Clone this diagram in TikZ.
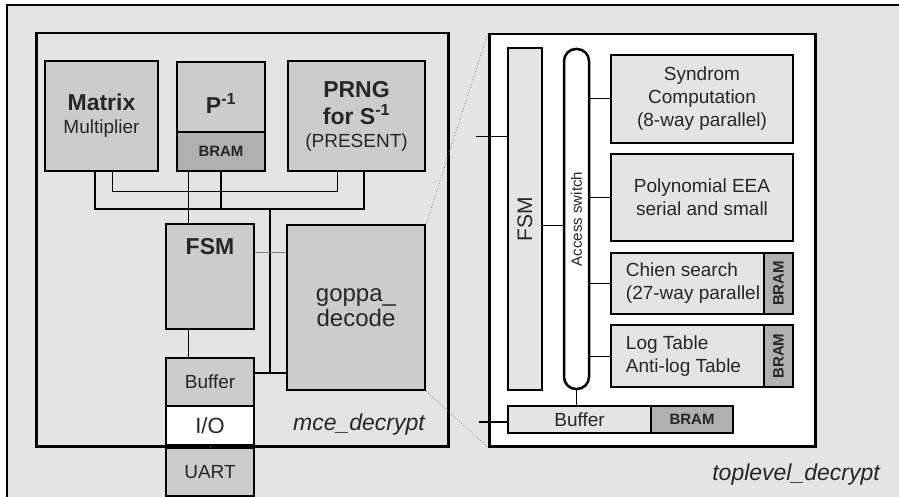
\documentclass[tikz,border=0pt]{standalone}
\usepackage{graphicx}
\usepackage{fontspec}
\setmainfont{Liberation Sans}
\definecolor{bggray}{HTML}{E4E4E4}
\definecolor{boxgray}{HTML}{CCCCCC}
\definecolor{bramgray}{HTML}{B0B0B0}
\definecolor{inkgray}{HTML}{262626}
\newcommand{\headfont}{\bfseries\fontsize{23}{27}\selectfont}

\begin{document}
\begin{tikzpicture}[x=1pt, y=-1pt,
            frame/.style={draw=black, line width=2.5pt, inner sep=0pt, anchor=north west},
            size/.style 2 args={minimum width=#1pt, minimum height=#2pt},
            block/.style={draw=black, line width=2.5pt, fill=boxgray, inner sep=0pt, align=center,
                text=inkgray, font=\fontsize{19}{23}\selectfont},
            lightblock/.style={block, fill=bggray},
            bramblock/.style={block, fill=bramgray, font=\bfseries\fontsize{15}{18}\selectfont},
            bus/.style={line width=2.5pt},
            wire/.style={line width=1pt},
            zoomline/.style={gray, dotted, line width=0.8pt},
            title/.style={font=\itshape\fontsize{23}{27}\selectfont, text=inkgray, inner sep=0pt}
        ]
            \useasboundingbox (0,0) rectangle (899,497);

            % frames
            \draw[frame, fill=bggray] (7,5) rectangle (912,512);
            \node[frame, size={412}{413}] (mce) at (35,32) {};
            \node[frame, size={326}{412}, fill=white] (zoombox) at (488,33) {};

            % mce_decrypt blocks
            \node[block, size={113}{110}] (matrix) at (101.5,116) {{\headfont Matrix}\\Multiplier};
            \node[block, size={88}{70}] (pinv) at (221,97) {\raisebox{-6pt}[\height][\depth]{\headfont P\textsuperscript{-1}}};
            \node[bramblock, size={88}{39}] (pbram) at (221,151.5) {BRAM};
            \node[block, size={137}{110}] (prng) at (356.5,116) {{\headfont PRNG}\\[4pt]{\headfont for S\textsuperscript{-1}}\\(PRESENT)};
            \node[block, size={88}{105},
                label={[anchor=north, yshift=-15pt, inner sep=0pt, text=inkgray, font=\headfont]north:FSM}] (fsm) at (210,276.5) {};
            \node[block, size={138}{165}, font=\fontsize{24}{25}\selectfont] (goppa) at (356,307.5) {goppa\_\\decode};
            \node[block, size={88}{48}] (buf) at (210,382) {Buffer};
            \node[block, size={88}{39}, fill=white, font=\fontsize{22}{26}\selectfont] (io) at (210,425.5) {I/O};
            \node[block, size={88}{48}] (uart) at (210,472) {UART};

            % buses
            \coordinate (busl) at (95,209);
            \coordinate (busr) at (364,209);
            \coordinate (ringl) at (112,192);
            \coordinate (ringr) at (337,192);
            \coordinate (pf) at (188,200);
            \coordinate (tap) at (270,209);
            \coordinate (tapb) at (270,373);
            \coordinate (fg) at (270,252);
            \draw[bus] (matrix.south -| busl) -- (busl) -- (busr) -- (prng.south -| busr);
            \draw[wire] (matrix.south -| ringl) -- (ringl) -- (ringr) -- (prng.south -| ringr);
            \draw[bus] (pbram.south) -- (pbram.south |- busl);
            \draw[wire] (pbram.south -| pf) -- (fsm.north -| pf);
            \draw[wire] (fsm.south -| pf) -- (buf.north -| pf);
            \draw[bus] (tap) -- (tapb);
            \draw[bus] (buf.east |- tapb) -- (goppa.west |- tapb);
            \draw[wire, gray] (fsm.east |- fg) -- (goppa.west |- fg);
            \draw[wire, gray] (io.south) -- (uart.north);

            % goppa_decode blocks
            \node[lightblock, size={34}{342}, font=\fontsize{21}{25}\selectfont] (rfsm) at (525,219) {\rotatebox{90}{FSM}};
            \node[block, size={25}{340}, fill=white, rounded corners=12pt, font=\fontsize{15}{18}\selectfont] (switch) at (576.5,219) {\rotatebox{90}{Access switch}};
            \node[lightblock, size={182}{88}] (syn) at (702,99) {Syndrom\\Computation\\(8-way parallel)};
            \node[lightblock, size={182}{87}] (poly) at (702,197.5) {Polynomial EEA\\serial and small};
            \node[lightblock, size={153}{61},
                label={[anchor=west, xshift=16pt, inner sep=0pt, align=left, text=inkgray, font=\fontsize{19}{23}\selectfont]west:{Chien search\\(27-way parallel}}] (chien) at (687.5,283.5) {};
            \node[bramblock, size={29}{61}] (chienbram) at (778.5,283.5) {\rotatebox{90}{BRAM}};
            \node[lightblock, size={153}{62},
                label={[anchor=west, xshift=16pt, inner sep=0pt, align=left, text=inkgray, font=\fontsize{19}{23}\selectfont]west:{Log Table\\Anti-log Table}}] (logtab) at (687.5,356) {};
            \node[bramblock, size={29}{62}] (logbram) at (778.5,356) {\rotatebox{90}{BRAM}};
            \node[lightblock, size={143}{27}] (rbuf) at (579.5,419.5) {Buffer};
            \node[bramblock, size={82}{27}] (rbram) at (692,419.5) {BRAM};

            % connections
            \coordinate (ctl) at (476,137);
            \coordinate (dat) at (479,422);
            \coordinate (fs) at (550,225);
            \draw[wire] (ctl) -- (rfsm.west |- ctl);
            \draw[bus] (dat) -- (rbuf.west |- dat);
            \draw[wire] (rfsm.east |- fs) -- (switch.west |- fs);
            \foreach \m in {syn, poly, chien, logtab}{
                \draw[wire] (\m.west -| switch.east) -- (\m.west);
            }
            \draw[wire] (switch.south) -- (switch.south |- rbuf.north);

            % zoom lines
            \draw[zoomline] (goppa.north east) -- (zoombox.north west);
            \draw[zoomline] (goppa.south east) -- (zoombox.south west);

            % titles
            \node[title, anchor=base east] (mcetitle) at (425,430) {mce\_decrypt};
            \node[title, anchor=base east] (toptitle) at (880,480) {toplevel\_decrypt};
        \end{tikzpicture}
\end{document}
